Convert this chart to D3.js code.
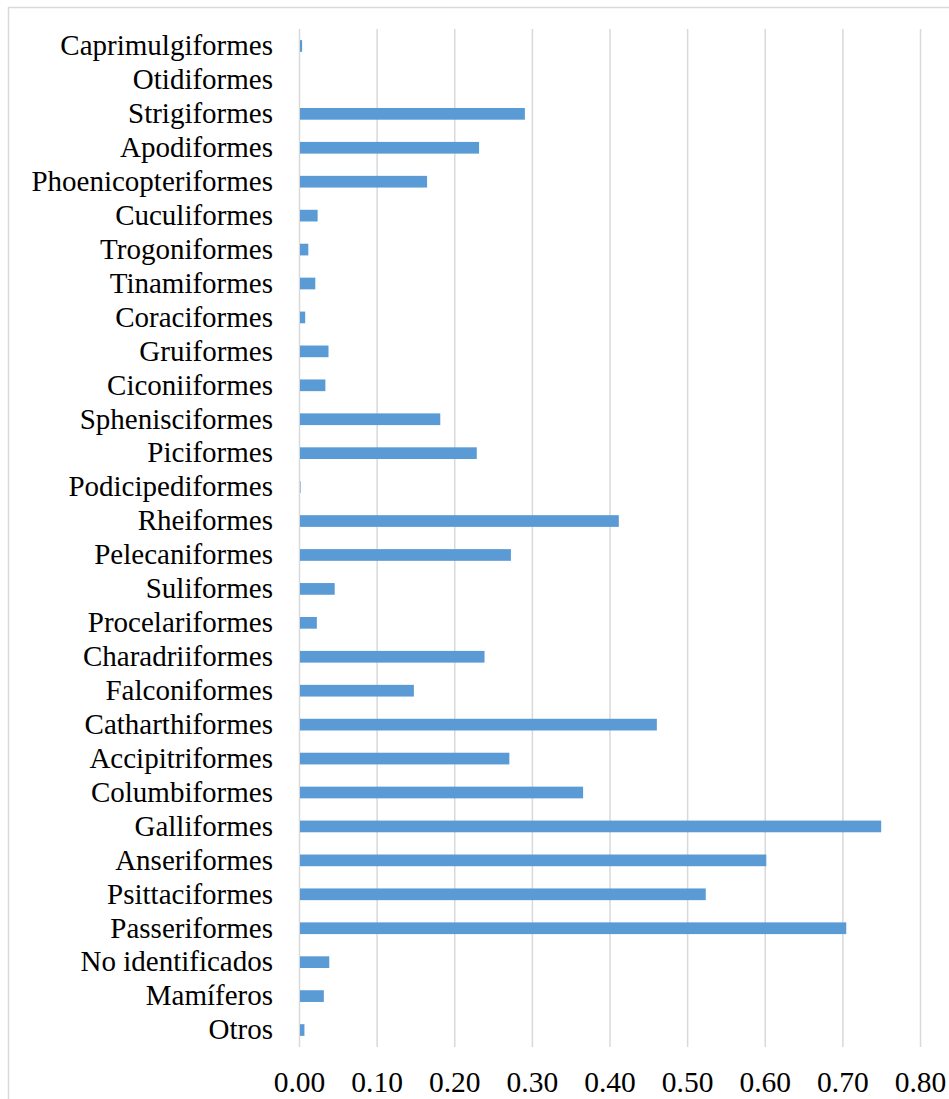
<!DOCTYPE html>
<html>
<head>
<meta charset="utf-8">
<script src="https://d3js.org/d3.v7.min.js"></script>
<style>
  body { margin: 0; background: #fff; }
  svg text { font-family: "Liberation Serif", "Times New Roman", serif; fill: #000; }
</style>
</head>
<body>
<div id="chart"></div>
<script>
// categories from top to bottom
var orders = [
  "Caprimulgiformes", "Otidiformes", "Strigiformes", "Apodiformes",
  "Phoenicopteriformes", "Cuculiformes", "Trogoniformes", "Tinamiformes",
  "Coraciformes", "Gruiformes", "Ciconiiformes", "Sphenisciformes",
  "Piciformes", "Podicipediformes", "Rheiformes", "Pelecaniformes",
  "Suliformes", "Procelariformes", "Charadriiformes", "Falconiformes",
  "Catharthiformes", "Accipitriformes", "Columbiformes", "Galliformes",
  "Anseriformes", "Psittaciformes", "Passeriformes", "No identificados",
  "Mamíferos", "Otros"
];
var values = [
  0.004, 0, 0.291, 0.232,
  0.165, 0.024, 0.012, 0.021,
  0.008, 0.038, 0.034, 0.182,
  0.229, 0.002, 0.412, 0.273,
  0.046, 0.023, 0.239, 0.148,
  0.461, 0.271, 0.366, 0.75,
  0.602, 0.524, 0.705, 0.039,
  0.032, 0.007
];
var xTicks = [0, 0.1, 0.2, 0.3, 0.4, 0.5, 0.6, 0.7, 0.8];

var W = 949, H = 1099;
var plot = {left: 299, right: 920, top: 29, bottom: 1047};

var data = orders.map(function(d, i) { return {name: d, value: values[i]}; });

var svg = d3.select("#chart")
  .append("svg")
    .attr("width", W)
    .attr("height", H);

// chart area border (runs off the right and bottom edges)
svg.append("rect")
  .attr("x", 8.5).attr("y", 7.5)
  .attr("width", W + 20).attr("height", H + 20)
  .attr("fill", "none")
  .attr("stroke", "#d9d9d9")
  .attr("stroke-width", 1.5);

var x = d3.scaleLinear()
  .domain([0, 0.8])
  .range([plot.left, plot.right]);

var y = d3.scaleBand()
  .domain(orders)
  .range([plot.top, plot.bottom])
  .paddingInner(0.655)
  .paddingOuter(0.655 / 2);

// X axis with gridlines
var xAxis = svg.append("g")
  .attr("transform", "translate(0," + plot.bottom + ")")
  .call(d3.axisBottom(x)
    .tickValues(xTicks)
    .tickFormat(d3.format(".2f"))
    .tickSize(-(plot.bottom - plot.top))
    .tickPadding(24));
xAxis.select(".domain").remove();
xAxis.selectAll(".tick line")
  .attr("stroke", "#d9d9d9")
  .attr("stroke-width", 1.5);
xAxis.selectAll(".tick text")
  .style("font-size", "29.5px");

// Y axis labels
var yAxis = svg.append("g")
  .attr("transform", "translate(" + plot.left + ",0)")
  .call(d3.axisLeft(y).tickSize(0).tickPadding(26));
yAxis.select(".domain").remove();
yAxis.selectAll(".tick text")
  .style("font-size", "29px");

// bars
svg.selectAll("myBars")
  .data(data)
  .enter()
  .append("rect")
    .attr("x", x(0) + 1)
    .attr("y", function(d) { return y(d.name); })
    .attr("width", function(d) { return Math.max(0, x(d.value) - x(0) - 1); })
    .attr("height", y.bandwidth())
    .attr("fill", "#5b9bd5");
</script>
</body>
</html>
